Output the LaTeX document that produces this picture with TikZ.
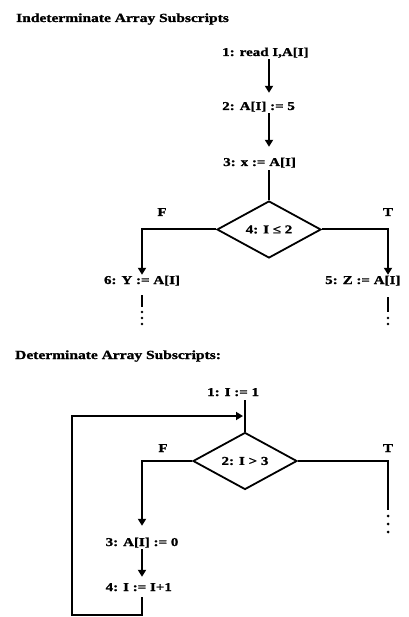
\documentclass[tikz,border=0pt]{standalone}
\usepackage{fontspec}
\newfontfamily\labfont{Liberation Serif}[FakeStretch=1.25,FakeBold=1.2]
\usetikzlibrary{shapes.geometric,arrows.meta}
\tikzset{
  lbl/.style={font=\labfont\bfseries\fontsize{12}{14}\selectfont, inner sep=0pt, text height=8pt, text depth=2pt},
  ttl/.style={font=\labfont\bfseries\fontsize{12.4}{14}\selectfont, inner sep=0pt, anchor=base west},
  dec/.style={draw, shape=diamond, line width=1.8pt, minimum width=104pt, minimum height=57pt, inner sep=0pt,
              font=\labfont\bfseries\fontsize{12}{14}\selectfont},
  ln/.style={line width=2pt},
  arr/.style={ln, -{Triangle[width=8pt,length=7pt]}},
  dotc/.style={fill=black}
}
\begin{document}
\begin{tikzpicture}[x=1pt,y=-1pt]
\fill[white] (0,0) rectangle (408,617);
\useasboundingbox (0,0) rectangle (408,617);

% ---------- Indeterminate ----------
\node[ttl] (t1) at (16,22) {Indeterminate Array Subscripts};
\node[lbl, anchor=base west] (n1) at (222,56) {1: read I,A[I]};
\node[lbl, anchor=base west] (n2) at (222,110) {2: A[I] := 5};
\node[lbl, anchor=base west] (n3) at (223,166) {3: x := A[I]};
\node[dec] (d1) at (269,229.5) {4: I ≤ 2};
\node[lbl, anchor=base] (f1) at (162,216) {F};
\node[lbl, anchor=base] (tt1) at (388,216) {T};
\node[lbl, anchor=base] (n6) at (142,284) {6: Y := A[I]};
\node[lbl, anchor=base west] (n5) at (325,284) {5: Z := A[I]};

\draw[arr, shorten <=1pt, shorten >=9pt] (n1.south -| d1.north) -- (n2.north -| d1.north);
\draw[arr, shorten <=1pt, shorten >=11pt] (n2.south -| d1.north) -- (n3.north -| d1.north);
\draw[ln, shorten <=2pt] (n3.south -| d1.north) -- (d1.north);
\draw[arr, shorten >=1pt] (d1.west) -| (n6.north);
\draw[arr, shorten >=1pt] (d1.east) -| (tt1 |- n6.north);

\draw[ln, shorten <=9pt] (n6.south) -- ++(0,21);
\foreach \yy in {312,318,324} \fill[dotc] (n6.south |- 0,\yy) circle (1.4pt);
\draw[ln, shorten <=11pt] (tt1 |- n6.south) -- ++(0,26);
\foreach \yy in {318,324} \fill[dotc] (tt1 |- 0,\yy) circle (1.4pt);

% ---------- Determinate ----------
\node[ttl] (t2) at (15,359) {Determinate Array Subscripts:};
\node[lbl, anchor=base west] (m1) at (207,396) {1: I := 1};
\node[dec] (d2) at (245,461) {2: I > 3};
\node[lbl, anchor=base] (f2) at (163,452) {F};
\node[lbl, anchor=base] (tt2) at (388,452) {T};
\node[lbl, anchor=base] (m2) at (142,546) {3: A[I] := 0};
\node[lbl, anchor=base west] (m3) at (m2.base west |- 0,591) {4: I := I+1};
\coordinate (lj) at (245,416);
\coordinate (lb) at (72,615);
\coordinate (rb) at (388,510);

\draw[ln, shorten <=2pt] (m1.south -| d2.north) -- (d2.north);
\draw[arr, shorten >=12pt] (d2.west) -| (m2.north);
\draw[arr, shorten <=1pt, shorten >=6pt] (m2.south) -- (m3.north -| m2.south);
\draw[arr, shorten >=2pt] ([yshift=-4pt]m3.south -| m2.south) |- (lb) |- (lj);
\draw[ln] (d2.east) -| (rb);
\foreach \yy in {516,524,532} \fill[dotc] (rb |- 0,\yy) circle (1.5pt);
\end{tikzpicture}
\end{document}
